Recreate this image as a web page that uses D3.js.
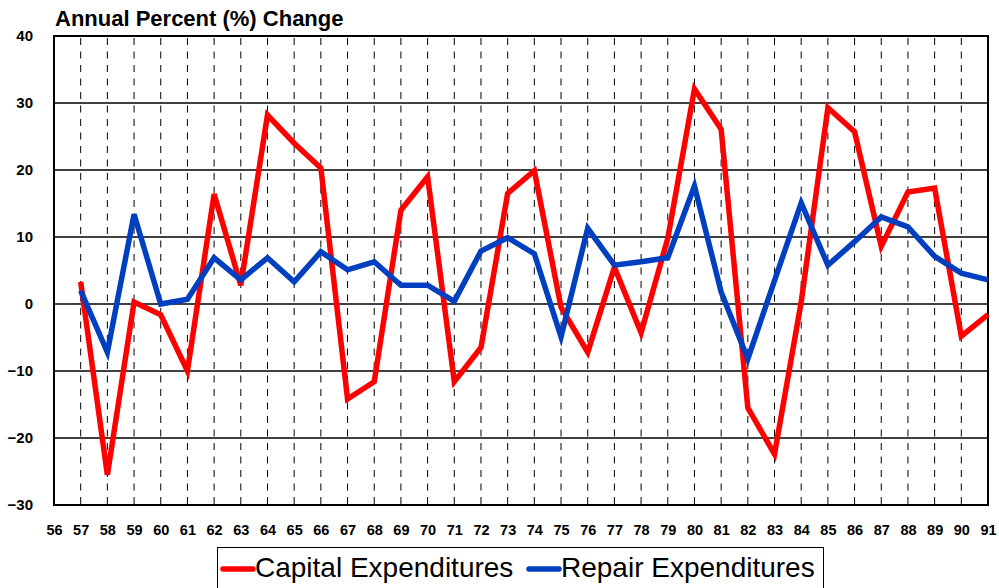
<!DOCTYPE html>
<html><head><meta charset="utf-8">
<script src="https://cdn.jsdelivr.net/npm/d3@7"></script>
<style>body{margin:0;background:#fff}svg{display:block}</style>
</head><body>
<script>
const years = d3.range(57, 92);
const capital = [3.3,-25.5,0.3,-1.6,-10.0,16.4,2.8,28.2,24.0,20.3,-14.2,-11.6,14.0,19.0,-11.6,-6.5,16.5,19.9,-0.5,-7.2,5.5,-4.3,9.8,32.1,26.1,-15.5,-22.4,0.3,29.3,25.7,8.6,16.7,17.3,-4.8,-1.6];
const repair = [2.0,-7.2,13.4,0.0,0.7,6.9,3.6,6.9,3.3,7.8,5.1,6.3,2.8,2.8,0.4,7.9,9.9,7.5,-4.9,11.3,5.8,6.3,6.9,17.6,1.8,-8.2,3.5,15.1,5.8,9.3,13.0,11.5,7.1,4.6,3.6];
const xTicks = d3.range(56, 92);
const yTicks = [-30,-20,-10,0,10,20,30,40];
const seriesNames = ["Capital Expenditures","Repair Expenditures"];
const seriesColors = ["#ff0000","#0040c0"];

const W = 999, H = 588;
const m = {left:54, right:W-988, top:36, bottom:H-505};
const svg = d3.select("body").append("svg").attr("width",W).attr("height",H);
const x = d3.scaleLinear().domain([56,91]).range([m.left, W-m.right]);
const y = d3.scaleLinear().domain([-30,40]).range([H-m.bottom, m.top]);
const font = "'Liberation Sans', Arial, sans-serif";

// horizontal gridlines
svg.append("g").selectAll("line").data(yTicks.filter(v=>v>-30 && v<40)).join("line")
  .attr("x1",x(56)).attr("x2",x(91)).attr("y1",d=>y(d)).attr("y2",d=>y(d))
  .attr("stroke","#000").attr("stroke-width",1.3);
// vertical dashed gridlines
svg.append("g").selectAll("line").data(d3.range(57,91)).join("line")
  .attr("x1",d=>x(d)).attr("x2",d=>x(d)).attr("y1",y(40)).attr("y2",y(-30))
  .attr("stroke","#000").attr("stroke-width",1).attr("stroke-dasharray","7,6.5")
  .attr("stroke-dashoffset",-2);
// border
svg.append("rect").attr("x",x(56)).attr("y",y(40)).attr("width",x(91)-x(56)).attr("height",y(-30)-y(40))
  .attr("fill","none").attr("stroke","#000").attr("stroke-width",2);

// axes (labels only)
const yAxis = d3.axisLeft(y).tickValues(yTicks).tickSize(0).tickPadding(21);
const gy = svg.append("g").attr("transform",`translate(${m.left},0)`).call(yAxis);
gy.select(".domain").remove();
gy.selectAll("text").attr("font-family",font).attr("font-weight","bold").attr("font-size",15).attr("fill","#000");

const xAxis = d3.axisBottom(x).tickValues(xTicks).tickSize(0).tickPadding(20).tickFormat(d3.format("d"));
const gx = svg.append("g").attr("transform",`translate(0,${H-m.bottom})`).call(xAxis);
gx.select(".domain").remove();
gx.selectAll("text").attr("font-family",font).attr("font-weight","bold").attr("font-size",14.5).attr("fill","#000");

// lines
const line = d3.line().x((d,i)=>x(years[i])).y(d=>y(d));
[capital, repair].forEach((s,k)=>{
  svg.append("path").datum(s).attr("d",line).attr("fill","none")
    .attr("stroke",seriesColors[k]).attr("stroke-width",5.5).attr("stroke-linejoin","miter");
});

// title
svg.append("text").attr("x",55).attr("y",26).text("Annual Percent (%) Change")
  .attr("font-family",font).attr("font-weight","bold").attr("font-size",22).attr("fill","#000");

// legend
const lg = svg.append("g");
lg.append("rect").attr("x",217.5).attr("y",547.5).attr("width",606).attr("height",50)
  .attr("fill","#fff").attr("stroke","#000").attr("stroke-width",1);
const legX = [223, 529];
seriesNames.forEach((n,k)=>{
  lg.append("line").attr("x1",legX[k]).attr("x2",legX[k]+30).attr("y1",569).attr("y2",569)
    .attr("stroke",seriesColors[k]).attr("stroke-width",5.5).attr("stroke-linecap","round");
  lg.append("text").attr("x",legX[k]+32).attr("y",577).text(n)
    .attr("font-family",font).attr("font-size",28).attr("fill","#000");
});
</script>
</body></html>
